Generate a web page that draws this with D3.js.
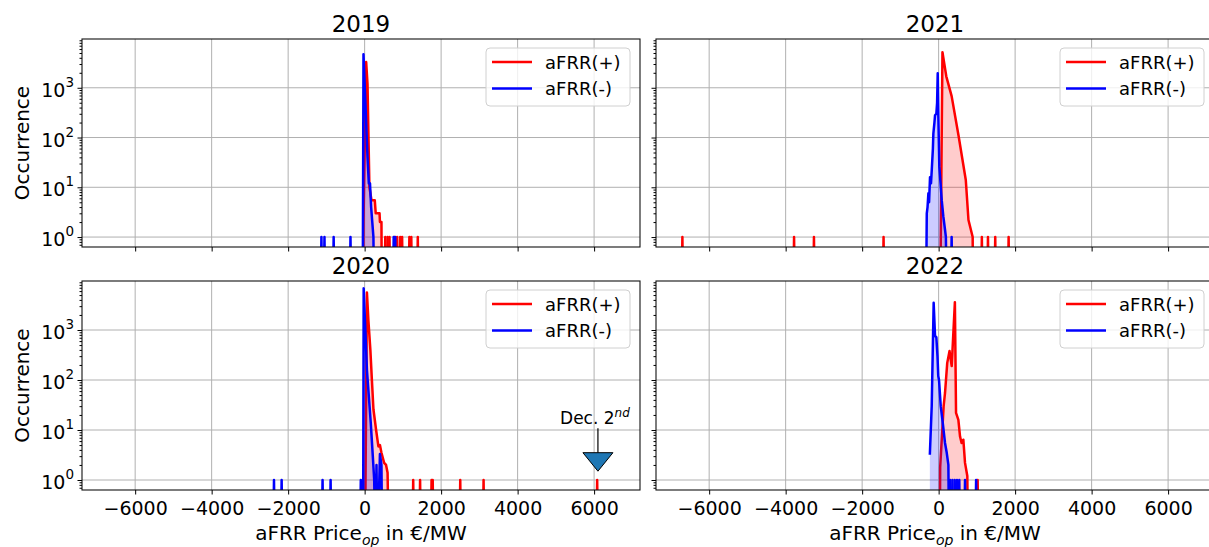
<!DOCTYPE html>
<html>
<head>
<meta charset="utf-8">
<script src="https://cdn.jsdelivr.net/npm/d3@7"></script>
<style>
  body { margin: 0; background: #fff; }
  svg { font-family: "DejaVu Sans", sans-serif; }
</style>
</head>
<body>
<svg id="chart" width="1209" height="547"></svg>
<script>
// axis ticks
const xTicks = [-6000, -4000, -2000, 0, 2000, 4000, 6000];
const yTicks = [1, 10, 100, 1000];
const seriesNames = ["aFRR(+)", "aFRR(-)"];

// histogram curves: [price bin, occurrence]; 0 = empty bin
const pos2019 = [[-40, 0], [-30, 2], [40, 3300], [75, 1200], [125, 10], [180, 5.5], [265, 5.5], [290, 3], [390, 3], [400, 2], [440, 2], [450, 0]];
const neg2019 = [[-50, 0], [-30, 4700], [25, 400], [75, 40], [110, 12], [140, 12], [170, 4], [200, 2], [230, 1], [250, 0]];
const posSpikes2019 = [540, 600, 650, 780, 850, 930, 980, 1170, 1220, 1390];
const negSpikes2019 = [-1130, -1050, -810, -370, 760, 800];

const pos2020 = [[10, 0], [60, 5600], [100, 1500], [150, 400], [190, 100], [230, 26], [300, 10], [360, 4.7], [400, 5], [440, 3.5], [510, 2.2], [560, 2], [600, 1.4], [630, 0]];
const neg2020 = [[-40, 0], [-25, 6800], [60, 160], [160, 14], [220, 2.5], [250, 1], [280, 0], [310, 2], [340, 0], [400, 3.3], [440, 2], [460, 0]];
const posSpikes2020 = [1270, 1450, 1750, 1780, 2500, 3110, 6080];
const negSpikes2020 = [-2370, -2170, -1100, -890, -100];

const pos2021 = [[40, 0], [100, 5200], [200, 1700], [340, 680], [520, 110], [710, 14], [780, 2.2], [890, 1], [900, 0]];
const neg2021 = [[-330, 0], [-310, 3], [-290, 4], [-268, 7.6], [-250, 5], [-225, 16], [-200, 12], [-180, 22], [-150, 60], [-138, 120], [-110, 200], [-94, 280], [-60, 300], [-40, 500], [-24, 1950], [-7, 260], [18, 26], [50, 12], [81, 5.5], [123, 2.6], [167, 1.4], [190, 1], [210, 0]];
const posSpikes2021 = [-6700, -3780, -3260, -1440, 1130, 1290, 1480, 1830];
const negSpikes2021 = [340];

const pos2022 = [[30, 0], [40, 1.8], [131, 30], [167, 55], [225, 220], [285, 380], [342, 190], [425, 3600], [455, 22], [516, 16], [560, 7.4], [600, 5.5], [646, 6.4], [690, 2.2], [750, 1.2], [770, 0]];
const neg2022 = [[-230, 3.2], [-181, 30], [-130, 3500], [-94, 760], [-60, 720], [-30, 300], [-10, 120], [10, 100], [55, 30], [107, 14], [167, 5.5], [212, 3.5], [255, 2], [275, 0]];
const posSpikes2022 = [1020];
const negSpikes2022 = [300, 360, 420, 480, 540, 690, 980];

// annotation (2020 panel)
const annotX = 6100;
const annotTip = 1.5;
const annotText = 13;

const width = 1209, height = 547;
const xDomain = [-7390, 7200];
const yDomain = [0.631, 9550];
const cols = [[82, 640], [656, 1214]];
const rows = [[39, 247], [281, 490]];
const colors = ["#ff0000", "#0000ff"];

const panels = [
    { year: "2019", col: 0, row: 0, pos: pos2019, neg: neg2019, posSpikes: posSpikes2019, negSpikes: negSpikes2019 },
    { year: "2021", col: 1, row: 0, pos: pos2021, neg: neg2021, posSpikes: posSpikes2021, negSpikes: negSpikes2021 },
    { year: "2020", col: 0, row: 1, pos: pos2020, neg: neg2020, posSpikes: posSpikes2020, negSpikes: negSpikes2020 },
    { year: "2022", col: 1, row: 1, pos: pos2022, neg: neg2022, posSpikes: posSpikes2022, negSpikes: negSpikes2022 }
];

const svg = d3.select("#chart");
svg.append("rect").attr("width", width).attr("height", height).attr("fill", "#fff");
const defs = svg.append("defs");

// minor log ticks
const minorTicks = [];
for (let k = -1; k <= 3; k++) {
    for (let m = 2; m <= 9; m++) {
        const v = m * Math.pow(10, k);
        if (v > yDomain[0] && v < yDomain[1]) minorTicks.push(v);
    }
}

function drawSeries(g, curve, spikes, color, x, yv, floorY) {
    const line = d3.line().x(d => x(d[0])).y(d => yv(d[1]));
    const area = d3.area().x(d => x(d[0])).y0(floorY).y1(d => yv(d[1]));
    // single-count bins drawn as narrow histogram spikes
    const parts = [curve].concat(spikes.map(v => [[v - 25, 0], [v, 1], [v + 25, 0]]));
    parts.forEach(pts => {
        g.append("path").attr("d", area(pts))
            .attr("fill", color).attr("fill-opacity", 0.2);
    });
    parts.forEach(pts => {
        g.append("path").attr("d", line(pts))
            .attr("fill", "none")
            .attr("stroke", color)
            .attr("stroke-width", 2.5)
            .attr("stroke-linejoin", "round");
    });
}

panels.forEach((p, i) => {
    const [x0, x1] = cols[p.col];
    const [y0, y1] = rows[p.row];
    const x = d3.scaleLinear().domain(xDomain).range([x0, x1]);
    const y = d3.scaleLog().domain(yDomain).range([y1, y0]);
    const floorY = y1 + 60;
    const yv = c => c > 0 ? y(c) : floorY;

    const g = svg.append("g");

    defs.append("clipPath").attr("id", "clip-" + i)
        .append("rect").attr("x", x0).attr("y", y0).attr("width", x1 - x0).attr("height", y1 - y0);

    // grid
    g.selectAll(".gx").data(xTicks).join("line")
        .attr("x1", d => x(d)).attr("x2", d => x(d))
        .attr("y1", y0).attr("y2", y1)
        .attr("stroke", "#b0b0b0").attr("stroke-width", 1);
    g.selectAll(".gy").data(yTicks).join("line")
        .attr("x1", x0).attr("x2", x1)
        .attr("y1", d => y(d)).attr("y2", d => y(d))
        .attr("stroke", "#b0b0b0").attr("stroke-width", 1);

    // histograms
    const plot = g.append("g").attr("clip-path", `url(#clip-${i})`);
    drawSeries(plot, p.pos, p.posSpikes, colors[0], x, yv, floorY);
    drawSeries(plot, p.neg, p.negSpikes, colors[1], x, yv, floorY);

    // spines
    g.append("rect").attr("x", x0).attr("y", y0)
        .attr("width", x1 - x0).attr("height", y1 - y0)
        .attr("fill", "none").attr("stroke", "#111").attr("stroke-width", 1.1);

    // x axis
    const xAxis = d3.axisBottom(x).tickValues(xTicks).tickSize(4.5).tickSizeOuter(0).tickPadding(7)
        .tickFormat(p.row === 0 ? "" : d3.format("d"));
    const xg = g.append("g").attr("transform", `translate(0,${y1})`).call(xAxis);
    xg.select(".domain").remove();
    xg.selectAll("text").attr("font-size", 19).attr("font-family", "DejaVu Sans").attr("fill", "#000");

    // y axis (major + minor)
    const yg = g.append("g").attr("transform", `translate(${x0},0)`)
        .call(d3.axisLeft(y).tickValues(yTicks).tickSize(4.5).tickFormat(""));
    yg.select(".domain").remove();
    const ym = g.append("g").attr("transform", `translate(${x0},0)`)
        .call(d3.axisLeft(y).tickValues(minorTicks).tickSize(2.5).tickFormat(""));
    ym.select(".domain").remove();

    if (p.col === 0) {
        yTicks.forEach(t => {
            const lab = g.append("text")
                .attr("x", x0 - 8).attr("y", y(t) + 9)
                .attr("text-anchor", "end").attr("font-size", 19);
            lab.append("tspan").text("10");
            lab.append("tspan").attr("font-size", 13.5).attr("dy", -10)
                .text(Math.round(Math.log10(t)));
        });
        g.append("text")
            .attr("transform", `translate(29,${(y0 + y1) / 2}) rotate(-90)`)
            .attr("text-anchor", "middle").attr("font-size", 20)
            .text("Occurrence");
    }

    if (p.row === 1) {
        const xl = g.append("text")
            .attr("x", (x0 + x1) / 2).attr("y", 540)
            .attr("text-anchor", "middle").attr("font-size", 20);
        xl.append("tspan").text("aFRR Price");
        xl.append("tspan").attr("font-size", 14).attr("font-style", "italic").attr("dy", 5).text("op");
        xl.append("tspan").attr("dy", -5).text(" in €/MW");
    }

    // title
    g.append("text")
        .attr("x", (x0 + x1) / 2).attr("y", y0 - 7.5)
        .attr("text-anchor", "middle").attr("font-size", 23)
        .text(p.year);

    // legend
    const lx = x1 - 10 - 144, ly = y0 + 9;
    const leg = g.append("g");
    leg.append("rect").attr("x", lx).attr("y", ly).attr("width", 144).attr("height", 58)
        .attr("rx", 4).attr("fill", "#fff").attr("fill-opacity", 0.8)
        .attr("stroke", "#d0d0d0").attr("stroke-width", 1);
    seriesNames.forEach((name, k) => {
        const cy = ly + 14 + k * 26.5;
        leg.append("line").attr("x1", lx + 6).attr("x2", lx + 46)
            .attr("y1", cy).attr("y2", cy)
            .attr("stroke", colors[k]).attr("stroke-width", 2.5);
        leg.append("text").attr("x", lx + 59).attr("y", cy + 6.5)
            .attr("font-size", 18).text(name);
    });

    // annotation for the December outlier
    if (p.year === "2020") {
        const ax = x(annotX);
        const tipY = y(annotTip);
        const headLen = 18.5, headW = 15;
        const an = g.append("g");
        const t = an.append("text")
            .attr("x", x(annotX) - 3).attr("y", y(annotText))
            .attr("text-anchor", "middle").attr("font-size", 17);
        t.append("tspan").text("Dec. 2");
        t.append("tspan").attr("font-size", 12).attr("font-style", "italic").attr("dy", -7).text("nd");
        an.append("line").attr("x1", ax).attr("x2", ax)
            .attr("y1", y(annotText) + 4).attr("y2", tipY - headLen)
            .attr("stroke", "#000").attr("stroke-width", 1.2);
        an.append("path")
            .attr("d", `M${ax - headW},${tipY - headLen}L${ax + headW},${tipY - headLen}L${ax},${tipY}Z`)
            .attr("fill", "#1f77b4").attr("stroke", "#000").attr("stroke-width", 1);
    }
});
</script>
</body>
</html>
